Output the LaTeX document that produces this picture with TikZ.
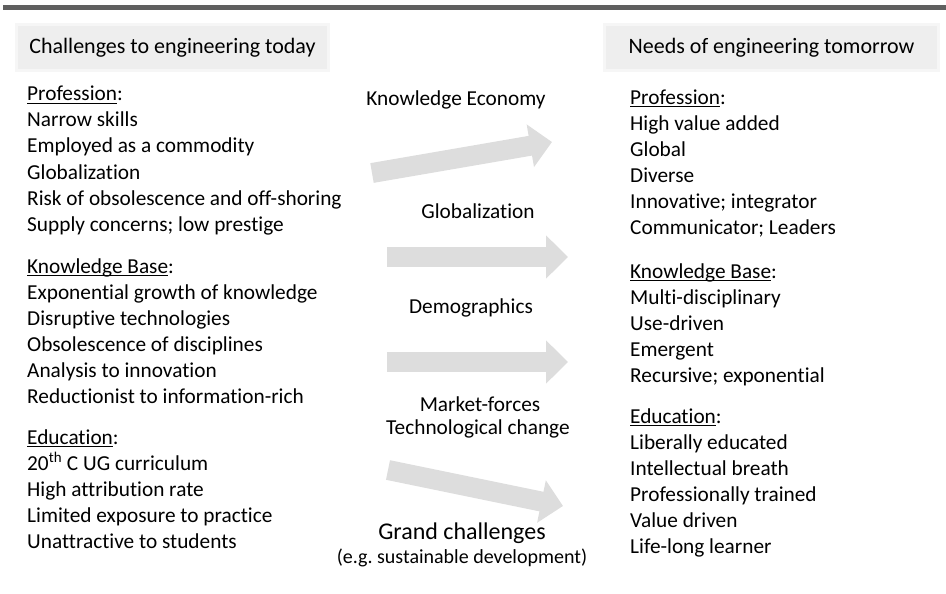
\documentclass[tikz,border=0pt]{standalone}
\usepackage{fontspec}
\setmainfont{Carlito}[Ligatures={NoCommon}]
\usetikzlibrary{arrows.meta}
\definecolor{bargray}{RGB}{95,95,95}
\definecolor{boxgray}{RGB}{238,238,238}
\definecolor{bevelgray}{RGB}{246,246,246}
\definecolor{arrgray}{RGB}{221,221,221}
\newcommand{\ulword}[1]{\sbox0{#1}\rlap{\rule[-2.6pt]{\wd0}{0.9pt}}#1}
\tikzset{
  body/.style={font=\fontsize{21.3}{26}\selectfont, inner sep=0pt, anchor=base west, text=black},
  midlabel/.style={font=\fontsize{21.3}{26}\selectfont, inner sep=0pt, anchor=base, text=black},
  headbox/.style={font=\fontsize{22}{26}\selectfont, inner sep=0pt, fill=boxgray, draw=bevelgray, line width=3pt, text=black},
  bigarrow/.style={draw=arrgray, line width=20pt, -{Triangle[length=22pt 0 0,width=42pt 0 0]}},
}
\begin{document}
\begin{tikzpicture}[x=1pt,y=-1pt]
\useasboundingbox (0,0) rectangle (946,594);
% top bar
\fill[bargray] (3,5) rectangle (946,10);
% header boxes
\node[headbox, minimum width=312, minimum height=46] (lt) at (172.5,47.5) {Challenges to engineering today};
\node[headbox, minimum width=334, minimum height=46] (rt) at (771.5,47.5) {Needs of engineering tomorrow};
% left column
\foreach \t [count=\i from 0] in {\ulword{Profession}:, Narrow skills, Employed as a commodity, Globalization, Risk of obsolescence and off-shoring, Supply concerns; low prestige}
  \node[body] (lp\i) at (27,{101+26*\i}) {\t};
\foreach \t [count=\i from 0] in {\ulword{Knowledge Base}:, Exponential growth of knowledge, Disruptive technologies, Obsolescence of disciplines, Analysis to innovation, Reductionist to information-rich}
  \node[body] (lk\i) at (27,{273+26*\i}) {\t};
\foreach \t [count=\i from 0] in {\ulword{Education}:, 20\textsuperscript{th} C UG curriculum, High attribution rate, Limited exposure to practice, Unattractive to students}
  \node[body] (le\i) at (27,{444+26*\i}) {\t};
% right column
\foreach \t [count=\i from 0] in {\ulword{Profession}:, High value added, Global, Diverse, Innovative; integrator, Communicator; Leaders}
  \node[body] (rp\i) at (630,{104+26*\i}) {\t};
\foreach \t [count=\i from 0] in {\ulword{Knowledge Base}:, Multi-disciplinary, Use-driven, Emergent, Recursive; exponential}
  \node[body] (rk\i) at (630,{278+26*\i}) {\t};
\foreach \t [count=\i from 0] in {\ulword{Education}:, Liberally educated, Intellectual breath, Professionally trained, Value driven, Life-long learner}
  \node[body] (re\i) at (630,{423+26*\i}) {\t};
% middle labels
\node[midlabel] (m1) at (456,106) {Knowledge Economy};
\node[midlabel] (m2) at (478,218) {Globalization};
\node[midlabel] (m3) at (471,313) {Demographics};
\node[midlabel] (m4) at (480,411) {Market-forces};
\node[midlabel] (m5) at (478,434) {Technological change};
\node[midlabel, font=\fontsize{24}{28}\selectfont] (m6) at (462,539) {Grand challenges};
\node[midlabel, font=\fontsize{20}{24}\selectfont] (m7) at (462,563) {(e.g.\ sustainable development)};
% arrows
\coordinate (a1s) at (372,173); \coordinate (a1e) at (552,142);
\coordinate (a2s) at (387,257); \coordinate (a2e) at (568,257);
\coordinate (a3s) at (387,362); \coordinate (a3e) at (568,362);
\coordinate (a4s) at (388,470); \coordinate (a4e) at (563,506);
\draw[bigarrow] (a1s) -- (a1e);
\draw[bigarrow] (a2s) -- (a2e);
\draw[bigarrow] (a3s) -- (a3e);
\draw[bigarrow] (a4s) -- (a4e);
\end{tikzpicture}
\end{document}
